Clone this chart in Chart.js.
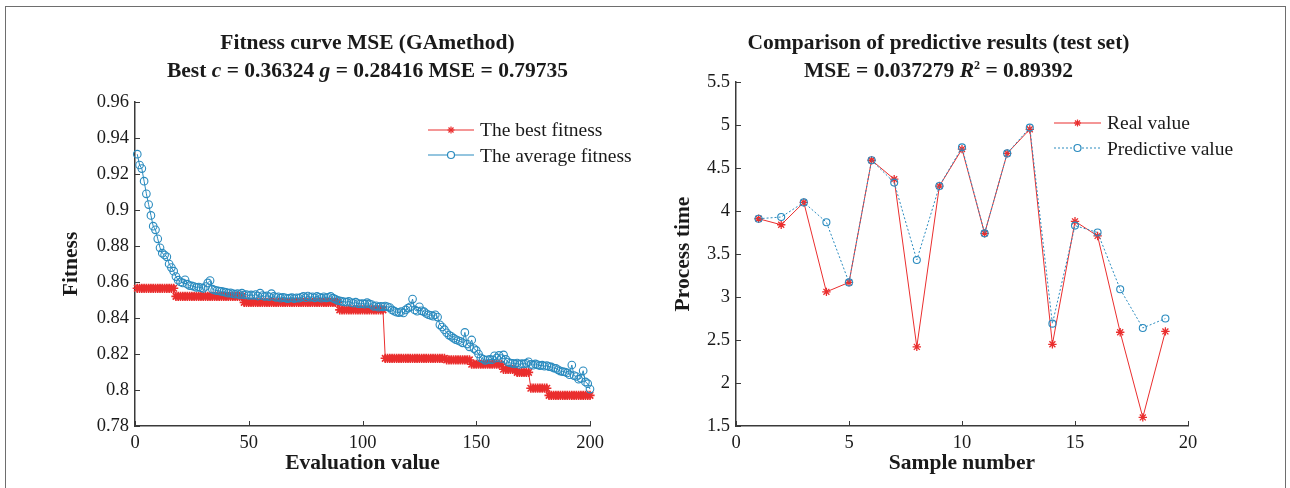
<!DOCTYPE html>
<html>
<head>
<meta charset="utf-8">
<script src="https://cdn.jsdelivr.net/npm/chart.js@4.4.1/dist/chart.umd.min.js"></script>
<style>
  html, body { margin: 0; padding: 0; background: #fff; width: 1290px; height: 488px; overflow: hidden; }
  body { position: relative; font-family: "Liberation Serif", "DejaVu Serif", serif; color: #1a1a1a; }
  .frame { position: absolute; left: 5px; top: 6px; width: 1281px; height: 600px; border: 1.5px solid #6e6e6e; box-sizing: border-box; }
  .box { position: absolute; top: 0; width: 645px; height: 488px; }
  .title { position: absolute; width: 645px; text-align: center; font-weight: bold; font-size: 21.5px; line-height: 28px; }
  .legend { position: absolute; font-size: 19.5px; line-height: 25px; }
  .legend div { display: flex; align-items: center; height: 25.5px; }
  .legend svg { margin-right: 6px; }
</style>
</head>
<body>
<div class="frame"></div>

<div class="box" style="left:0">
  <canvas id="c1" width="645" height="488"></canvas>
  <div class="title" style="left:45px; top:28px;">Fitness curve MSE (GAmethod)<br>Best <i>c</i> = 0.36324 <i>g</i> = 0.28416 MSE = 0.79735</div>
  <div class="legend" style="left:428px; top:117px;">
    <div><svg width="46" height="14"><line x1="0" y1="7" x2="46" y2="7" stroke="#ea2e2e" stroke-width="1.2"/><g stroke="#ea2e2e" stroke-width="1.2"><line x1="19.5" y1="7" x2="26.5" y2="7"/><line x1="23" y1="3.5" x2="23" y2="10.5"/><line x1="20.5" y1="4.5" x2="25.5" y2="9.5"/><line x1="25.5" y1="4.5" x2="20.5" y2="9.5"/></g></svg><span>The best fitness</span></div>
    <div><svg width="46" height="14"><line x1="0" y1="7" x2="46" y2="7" stroke="#2a8bbf" stroke-width="1.2"/><circle cx="23" cy="7" r="3.5" fill="#fff" stroke="#2a8bbf" stroke-width="1.2"/></svg><span>The average fitness</span></div>
  </div>
</div>

<div class="box" style="left:645px">
  <canvas id="c2" width="645" height="488"></canvas>
  <div class="title" style="left:-29px; top:28px;">Comparison of predictive results (test set)<br>MSE = 0.037279 <i>R</i><sup style="font-size:12px;line-height:0">2</sup> = 0.89392</div>
  <div class="legend" style="left:409px; top:110px;">
    <div><svg width="47" height="14"><line x1="0" y1="7" x2="47" y2="7" stroke="#ea2e2e" stroke-width="1.2"/><g stroke="#ea2e2e" stroke-width="1.2"><line x1="20" y1="7" x2="27" y2="7"/><line x1="23.5" y1="3.5" x2="23.5" y2="10.5"/><line x1="21" y1="4.5" x2="26" y2="9.5"/><line x1="26" y1="4.5" x2="21" y2="9.5"/></g></svg><span>Real value</span></div>
    <div><svg width="47" height="14"><line x1="0" y1="7" x2="47" y2="7" stroke="#2a8bbf" stroke-width="1.2" stroke-dasharray="2,2"/><circle cx="23.5" cy="7" r="3.5" fill="#fff" stroke="#2a8bbf" stroke-width="1.2"/></svg><span>Predictive value</span></div>
  </div>
</div>

<script>
// ---------------- Left chart data ----------------
const fitTicksX = [0, 50, 100, 150, 200];
const fitTicksY = [0.78, 0.80, 0.82, 0.84, 0.86, 0.88, 0.90, 0.92, 0.94, 0.96];

// best fitness per evaluation (1..200)
const bestFitness = [
  0.8565,0.8565,0.8565,0.8565,0.8565,0.8565,0.8565,0.8565,0.8565,0.8565,
  0.8565,0.8565,0.8565,0.8565,0.8565,0.8565,0.8565,0.852,0.852,0.852,
  0.852,0.852,0.852,0.852,0.852,0.852,0.852,0.852,0.852,0.852,
  0.852,0.852,0.852,0.852,0.852,0.852,0.852,0.852,0.852,0.852,
  0.852,0.852,0.852,0.852,0.852,0.852,0.852,0.8487,0.8487,0.8487,
  0.8487,0.8487,0.8487,0.8487,0.8487,0.8487,0.8487,0.8487,0.8487,0.8487,
  0.8487,0.8487,0.8487,0.8487,0.8487,0.8487,0.8487,0.8487,0.8487,0.8487,
  0.8487,0.8487,0.8487,0.8487,0.8487,0.8487,0.8487,0.8487,0.8487,0.8487,
  0.8487,0.8487,0.8487,0.8487,0.8487,0.8487,0.8487,0.8487,0.8487,0.8445,
  0.8445,0.8445,0.8445,0.8445,0.8445,0.8445,0.8445,0.8445,0.8445,0.8445,
  0.8445,0.8445,0.8445,0.8445,0.8445,0.8445,0.8445,0.8445,0.8445,0.8176,
  0.8176,0.8176,0.8176,0.8176,0.8176,0.8176,0.8176,0.8176,0.8176,0.8176,
  0.8176,0.8176,0.8176,0.8176,0.8176,0.8176,0.8176,0.8176,0.8176,0.8176,
  0.8176,0.8176,0.8176,0.8176,0.8176,0.8176,0.8167,0.8167,0.8167,0.8167,
  0.8167,0.8167,0.8167,0.8167,0.8167,0.8167,0.8167,0.8143,0.8143,0.8143,
  0.8143,0.8143,0.8143,0.8143,0.8143,0.8143,0.8143,0.8143,0.8143,0.8143,
  0.8143,0.8115,0.8115,0.8115,0.8115,0.8115,0.8115,0.8098,0.8098,0.8098,
  0.8098,0.8098,0.8098,0.801,0.801,0.801,0.801,0.801,0.801,0.801,
  0.801,0.797,0.797,0.797,0.797,0.797,0.797,0.797,0.797,0.797,
  0.797,0.797,0.797,0.797,0.797,0.797,0.797,0.797,0.797,0.797
];

// average fitness per evaluation (1..200)
const avgFitness = [
  0.931,0.925,0.923,0.916,0.909,0.903,0.897,0.891,0.889,0.884,
  0.879,0.876,0.875,0.874,0.870,0.868,0.866,0.863,0.861,0.860,
  0.8595,0.8612,0.8588,0.858,0.8578,0.8575,0.857,0.8572,0.8568,0.8565,
  0.8575,0.8595,0.8608,0.856,0.8555,0.8552,0.855,0.8548,0.8545,0.8542,
  0.8538,0.854,0.8535,0.8532,0.8535,0.853,0.8538,0.8528,0.853,0.8525,
  0.8528,0.8525,0.853,0.8522,0.8538,0.8525,0.852,0.8523,0.8518,0.8535,
  0.852,0.8515,0.8518,0.851,0.8515,0.8512,0.8508,0.851,0.8513,0.8508,
  0.8512,0.851,0.8515,0.852,0.8513,0.8522,0.8515,0.8518,0.8512,0.852,
  0.8515,0.851,0.8518,0.8512,0.8515,0.852,0.851,0.8505,0.8498,0.8495,
  0.8492,0.849,0.8488,0.8493,0.8485,0.8482,0.8488,0.848,0.8478,0.848,
  0.8477,0.8485,0.8478,0.8475,0.8465,0.8468,0.846,0.8465,0.8462,0.8466,
  0.8462,0.8458,0.8445,0.8438,0.8432,0.843,0.8435,0.8428,0.8445,0.8455,
  0.8462,0.8505,0.8445,0.8438,0.8462,0.844,0.8435,0.8425,0.8418,0.8415,
  0.841,0.8418,0.8405,0.8362,0.835,0.8335,0.8318,0.8305,0.8298,0.8288,
  0.828,0.8275,0.827,0.8262,0.832,0.8255,0.824,0.8278,0.823,0.822,
  0.820,0.8178,0.8172,0.8165,0.8168,0.817,0.8168,0.819,0.8178,0.8192,
  0.8175,0.8195,0.817,0.8155,0.815,0.8148,0.8145,0.815,0.8142,0.8146,
  0.8145,0.8148,0.8157,0.8142,0.8138,0.8145,0.814,0.8135,0.8138,0.8132,
  0.8135,0.813,0.8128,0.8122,0.812,0.8112,0.8105,0.8102,0.810,0.8095,
  0.8085,0.8139,0.808,0.8075,0.806,0.8065,0.8107,0.8045,0.8035,0.8005
];

// ---------------- Right chart data ----------------
const sampleNumbers = [1,2,3,4,5,6,7,8,9,10,11,12,13,14,15,16,17,18,19];
const realValues = [3.91,3.84,4.10,3.06,3.17,4.59,4.37,2.42,4.29,4.72,3.74,4.67,4.95,2.45,3.88,3.71,2.59,1.60,2.60];
const predValues = [3.91,3.93,4.10,3.87,3.17,4.59,4.33,3.43,4.29,4.74,3.74,4.67,4.97,2.69,3.83,3.75,3.09,2.64,2.75];
const sampleTicksX = [0, 5, 10, 15, 20];
const timeTicksY = [1.5, 2, 2.5, 3, 3.5, 4, 4.5, 5, 5.5];

// ---------------- styling ----------------
const RED = '#ea2e2e';
const BLUE = '#2a8bbf';
const AXIS = '#3a3a3a';
const FONT = "'Liberation Serif', 'DejaVu Serif', serif";

const inwardTicks = {
  id: 'inwardTicks',
  afterDatasetsDraw(chart) {
    const { ctx, chartArea: a, scales } = chart;
    ctx.save();
    ctx.strokeStyle = AXIS;
    ctx.lineWidth = 1;
    scales.x.ticks.forEach((t, i) => {
      const px = Math.round(scales.x.getPixelForTick(i)) + 0.5;
      ctx.beginPath(); ctx.moveTo(px, a.bottom); ctx.lineTo(px, a.bottom - 5); ctx.stroke();
    });
    scales.y.ticks.forEach((t, i) => {
      const py = Math.round(scales.y.getPixelForTick(i)) + 0.5;
      ctx.beginPath(); ctx.moveTo(a.left, py); ctx.lineTo(a.left + 5, py); ctx.stroke();
    });
    ctx.restore();
  }
};

function fmt(v) { return String(Number(v.toFixed(2))); }

function axisCommon(min, max, ticksArr, titleText, fixed) {
  return {
    type: 'linear',
    min: min, max: max,
    afterBuildTicks: (s) => { s.ticks = ticksArr.map(v => ({ value: v })); },
    grid: { display: true, drawOnChartArea: false, drawTicks: false },
    border: { display: true, color: AXIS, width: 1.5 },
    ticks: { color: '#1a1a1a', font: { family: FONT, size: 18.5 }, padding: 6, callback: (v) => fmt(v), maxRotation: 0, autoSkip: false },
    title: { display: true, text: titleText, color: '#1a1a1a', font: { family: FONT, size: 21.5, weight: 'bold' }, padding: 0 },
    afterFit: fixed
  };
}

function baseOptions(pad, yWidth, xHeight, xs, ys) {
  return {
    responsive: false,
    animation: false,
    devicePixelRatio: 1,
    layout: { padding: pad },
    plugins: { legend: { display: false }, title: { display: false }, tooltip: { enabled: false } },
    scales: {
      x: Object.assign(axisCommon(xs.min, xs.max, xs.ticks, xs.title, (s) => { s.height = xHeight; }), { position: 'bottom' }),
      y: Object.assign(axisCommon(ys.min, ys.max, ys.ticks, ys.title, (s) => { s.width = yWidth; }), { position: 'left' })
    }
  };
}

// Left chart
new Chart(document.getElementById('c1'), {
  type: 'line',
  data: {
    datasets: [
      {
        label: 'The best fitness',
        data: bestFitness.map((v, i) => ({ x: i + 1, y: v })),
        borderColor: RED, backgroundColor: RED, borderWidth: 1,
        pointStyle: 'star', pointRadius: 4.6, pointBorderWidth: 1.6, pointBorderColor: RED,
        tension: 0, clip: false, order: 1
      },
      {
        label: 'The average fitness',
        data: avgFitness.map((v, i) => ({ x: i + 1, y: v })),
        borderColor: BLUE, backgroundColor: 'rgba(0,0,0,0)', borderWidth: 1,
        pointStyle: 'circle', pointRadius: 3.8, pointBorderWidth: 1.1, pointBorderColor: BLUE,
        tension: 0, clip: false, order: 0
      }
    ]
  },
  options: baseOptions({ left: 59, right: 55, top: 102, bottom: 12 }, 76, 50,
    { min: 0, max: 200, ticks: fitTicksX, title: 'Evaluation value' },
    { min: 0.78, max: 0.96, ticks: fitTicksY, title: 'Fitness' }),
  plugins: [inwardTicks]
});

// Right chart
new Chart(document.getElementById('c2'), {
  type: 'line',
  data: {
    datasets: [
      {
        label: 'Real value',
        data: realValues.map((v, i) => ({ x: sampleNumbers[i], y: v })),
        borderColor: RED, backgroundColor: RED, borderWidth: 1,
        pointStyle: 'star', pointRadius: 4.2, pointBorderWidth: 1.3, pointBorderColor: RED,
        tension: 0, clip: false, order: 1
      },
      {
        label: 'Predictive value',
        data: predValues.map((v, i) => ({ x: sampleNumbers[i], y: v })),
        borderColor: BLUE, backgroundColor: 'rgba(0,0,0,0)', borderWidth: 1, borderDash: [2, 2],
        pointStyle: 'circle', pointRadius: 3.5, pointBorderWidth: 1.1, pointBorderColor: BLUE,
        tension: 0, clip: false, order: 0
      }
    ]
  },
  options: baseOptions({ left: 26, right: 102, top: 82, bottom: 12 }, 65, 50,
    { min: 0, max: 20, ticks: sampleTicksX, title: 'Sample number' },
    { min: 1.5, max: 5.5, ticks: timeTicksY, title: 'Process time' }),
  plugins: [inwardTicks]
});
</script>
</body>
</html>
